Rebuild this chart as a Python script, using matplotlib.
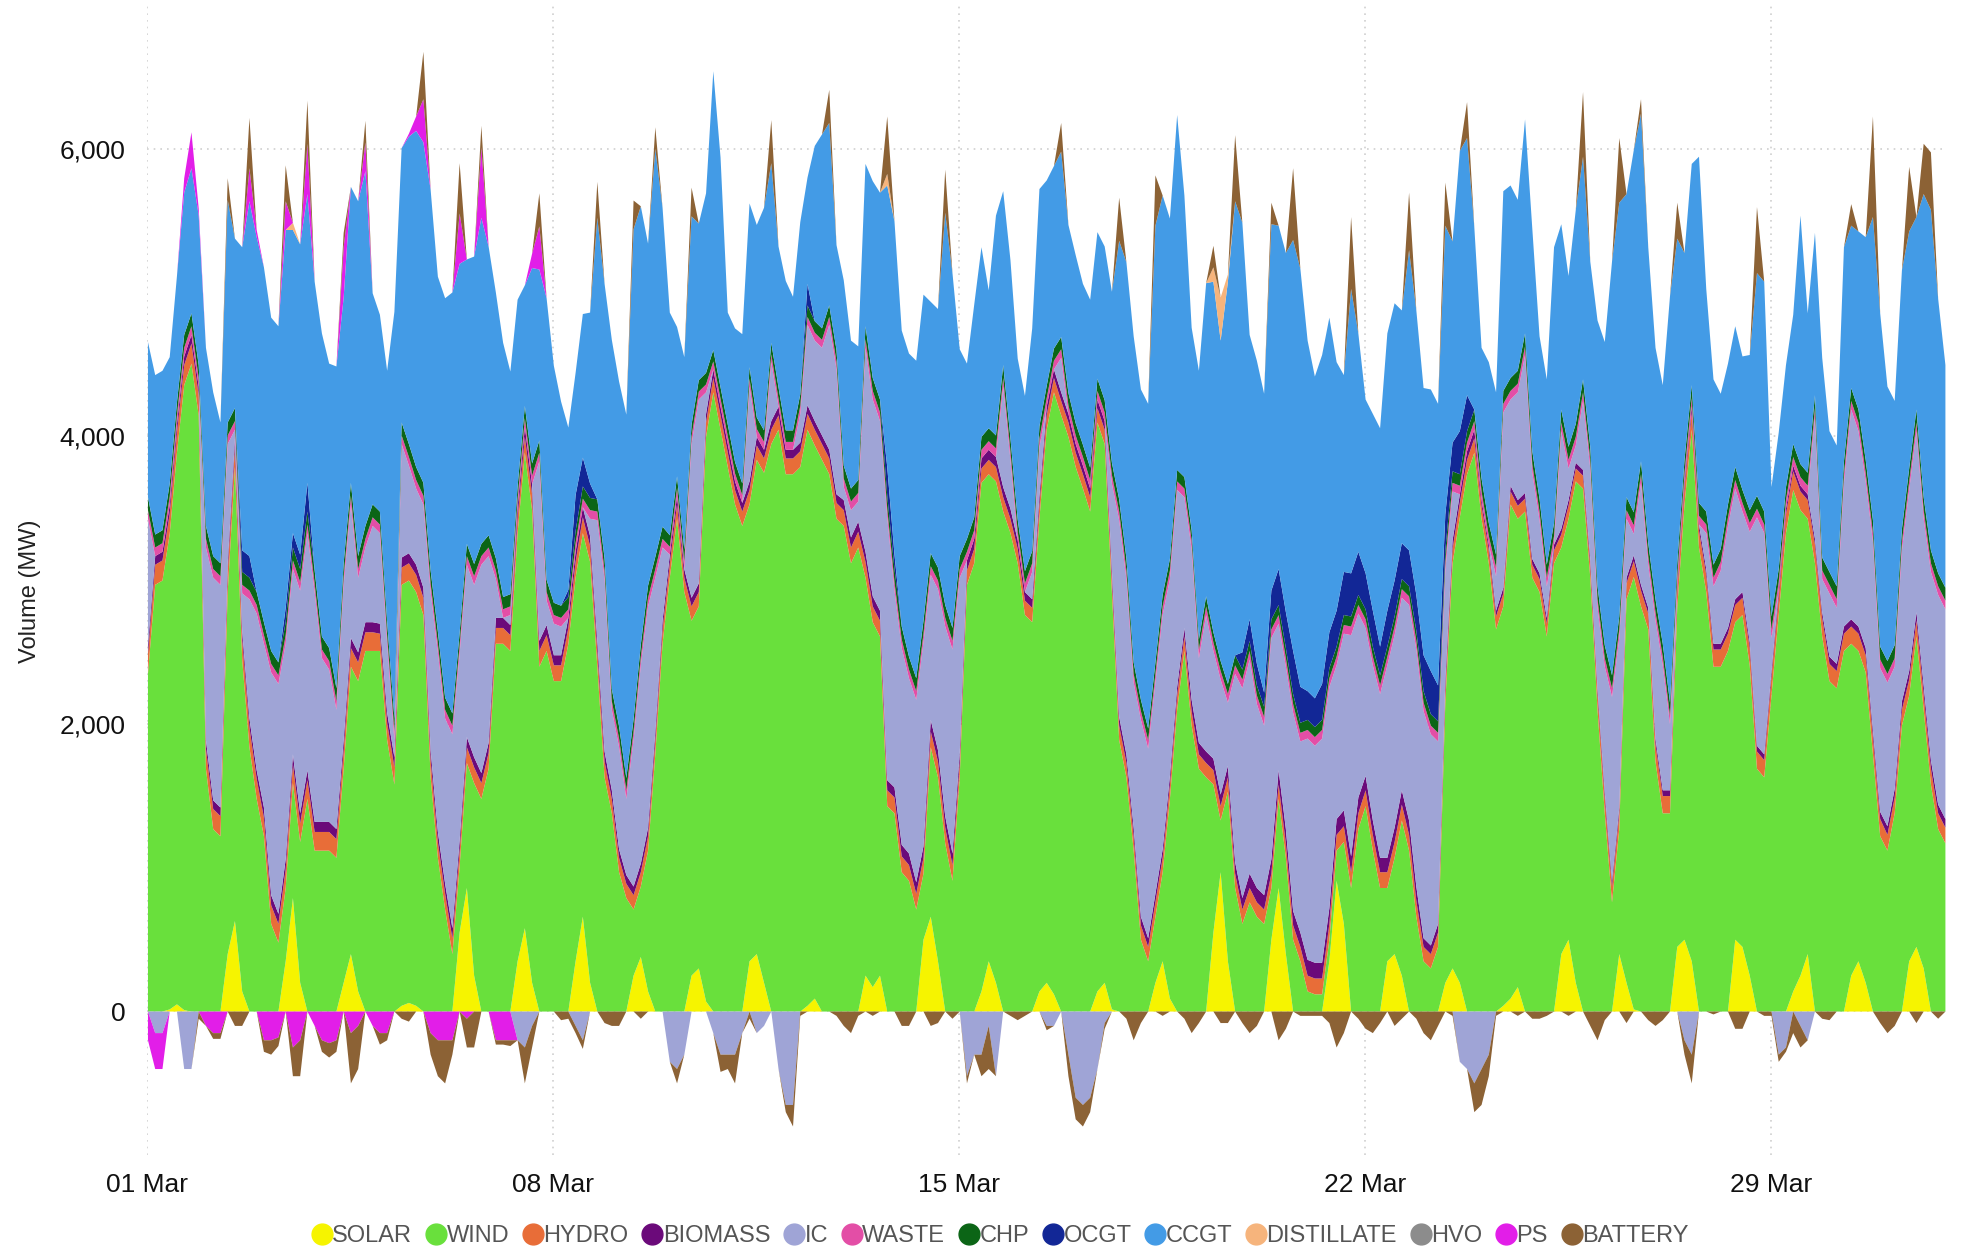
import numpy as np
import pandas as pd
import matplotlib
matplotlib.use("Agg")
import matplotlib.pyplot as plt
import matplotlib.dates as mdates
from matplotlib.lines import Line2D
from matplotlib.ticker import FuncFormatter

plt.rcParams['font.family'] = ['Liberation Sans', 'DejaVu Sans']

# 3-hourly readings (00,03,...,21h) for each day of March, plus 01 Apr 00:00
solar = [
    0, 0, 0, 15, 50, 10, 0, 0,
    0, 0, 0, 400, 630, 140, 0, 0,
    0, 0, 0, 350, 790, 200, 0, 0,
    0, 0, 0, 200, 400, 140, 0, 0,
    0, 0, 0, 40, 60, 40, 0, 0,
    0, 0, 0, 550, 860, 250, 0, 0,
    0, 0, 0, 350, 580, 200, 0, 0,
    0, 0, 0, 350, 660, 200, 0, 0,
    0, 0, 0, 250, 380, 140, 0, 0,
    0, 0, 0, 250, 300, 70, 0, 0,
    0, 0, 0, 350, 400, 200, 0, 0,
    0, 0, 0, 40, 90, 0, 0, 0,
    0, 0, 0, 250, 170, 250, 0, 0,
    0, 0, 0, 500, 660, 350, 0, 0,
    0, 0, 0, 140, 350, 200, 0, 0,
    0, 0, 0, 140, 200, 120, 0, 0,
    0, 0, 0, 140, 200, 15, 0, 0,
    0, 0, 0, 200, 350, 90, 0, 0,
    0, 0, 0, 550, 970, 350, 0, 0,
    0, 0, 0, 500, 860, 400, 0, 0,
    0, 0, 0, 350, 910, 610, 0, 0,
    0, 0, 0, 350, 400, 250, 0, 0,
    0, 0, 0, 200, 300, 200, 0, 0,
    0, 0, 0, 40, 90, 170, 0, 0,
    0, 0, 0, 400, 500, 200, 0, 0,
    0, 0, 0, 400, 200, 15, 0, 0,
    0, 0, 0, 450, 500, 350, 0, 0,
    0, 0, 0, 500, 450, 250, 0, 0,
    0, 0, 0, 140, 250, 400, 0, 0,
    0, 0, 0, 250, 350, 200, 0, 0,
    0, 0, 0, 350, 450, 300, 0, 0,
    0,
]

wind = [
    2350, 2970, 3000, 3310, 3840, 4350, 4510, 4150,
    1690, 1270, 1220, 2520, 3160, 2310, 1840, 1480,
    1220, 610, 480, 510, 800, 980, 1480, 1120,
    1120, 1120, 1070, 1490, 2000, 2160, 2510, 2510,
    2510, 1890, 1580, 2930, 2940, 2880, 2760, 1630,
    1070, 710, 400, 460, 870, 1340, 1480, 1690,
    2560, 2560, 2510, 2980, 3310, 3290, 2400, 2510,
    2300, 2300, 2560, 2670, 2670, 2930, 2400, 1630,
    1380, 970, 790, 460, 490, 980, 1790, 2560,
    3020, 3430, 2920, 2470, 2520, 3930, 4310, 4050,
    3790, 3530, 3380, 3180, 3440, 3550, 3950, 4050,
    3740, 3740, 3790, 4010, 3850, 3840, 3740, 3430,
    3380, 3120, 3230, 2770, 2540, 2360, 1430, 1380,
    970, 910, 710, 460, 1180, 1280, 1170, 910,
    1630, 2970, 3120, 3540, 3390, 3490, 3480, 3330,
    3120, 2760, 2710, 3290, 3850, 4190, 4150, 4000,
    3790, 3640, 3480, 3960, 3750, 2900, 1890, 1630,
    1120, 500, 350, 460, 620, 1390, 2100, 2510,
    1990, 1690, 1630, 1030, 360, 1180, 860, 610,
    760, 660, 610, 360, 620, 670, 500, 350,
    140, 120, 120, 150, 210, 570, 860, 1270,
    1430, 1120, 860, 510, 670, 1080, 1120, 660,
    350, 300, 450, 1950, 2820, 3240, 3740, 3890,
    3430, 3120, 2660, 2780, 3440, 3260, 3480, 3020,
    2920, 2610, 3120, 2830, 2930, 3490, 3640, 3020,
    2100, 1380, 760, 870, 2670, 3010, 2820, 2660,
    1740, 1380, 1380, 2360, 3030, 3700, 3230, 2920,
    2400, 2400, 2510, 2210, 2310, 2160, 1690, 1630,
    2200, 2760, 3330, 3490, 3240, 3030, 3120, 2610,
    2300, 2250, 2510, 2310, 2160, 2160, 1790, 1220,
    1120, 1380, 1990, 1850, 2160, 1800, 1580, 1270,
    1170,
]

# interconnector flows: negative = export
ic = [
    880, -150, -150, 0, 0, -400, -400, 0,
    1340, 1550, 1550, 830, 60, 260, 830, 1090,
    1140, 1550, 1600, 1500, 1290, 1550, 1650, 1600,
    1140, 1060, 830, 1080, 930, 520, 520, 670,
    630, 480, 120, 790, 610, 530, 580, 1100,
    1250, 1150, 1350, 1300, 1200, 1200, 1450, 1300,
    270, 0, 70, -200, -250, -100, 1250, 170,
    220, 200, 0, -100, -200, 120, 840, 1200,
    560, 710, 530, 1020, 1380, 1540, 1070, 510,
    -350, -400, -300, 1070, 1280, 150, -150, -300,
    -300, -300, -150, 660, -150, -100, 410, -400,
    -650, -650, 200, 560, 560, 610, 870, 870,
    90, 190, 140, 1420, 1370, 1320, 1830, 1370,
    1370, 1220, 1270, 1420, 1010, 1120, 1320, 1420,
    1220, -450, -300, -300, -100, -450, 700, 340,
    0, 0, 190, 340, -100, -100, 240, -300,
    -600, -650, -600, -400, -80, 600, 1370, 1220,
    1010, 1370, 1320, 1470, 1630, 1370, 1370, 910,
    1050, 590, 950, 750, 800, 440, 1310, 1460,
    1490, 1280, 1180, 1540, 1020, 1130, 1380, 1330,
    1540, 1510, 1560, 1540, 1070, 1230, 1540, 1280,
    1030, 1080, 1140, 1340, 1340, 1340, 1500, 1650,
    1580, 1470, 1270, 760, 340, -350, -400, -500,
    -400, -300, 240, 1220, 600, 750, 960, 600,
    370, 220, 0, 680, 220, 120, 480, 630,
    560, 870, 1280, 1180, 410, 150, 710, 300,
    820, 870, 460, 0, -200, -300, 0, 250,
    400, 510, 710, 770, 560, 770, 1590, 1540,
    230, -300, -250, 0, -100, -200, 850, 230,
    440, 390, 1000, 1460, 1360, 1160, 1310, 1000,
    1000, 850, 1050, 1260, 1260, 1160, 1310, 1460,
    1460,
]

ocgt = [
    0, 0, 0, 0, 0, 0, 0, 0,
    0, 0, 0, 0, 0, 150, 150, 0,
    0, 0, 0, 100, 100, 100, 200, 0,
    0, 0, 0, 0, 0, 0, 0, 0,
    0, 0, 0, 0, 0, 0, 0, 0,
    0, 0, 0, 0, 0, 0, 0, 0,
    0, 0, 0, 0, 0, 0, 0, 0,
    0, 0, 50, 250, 200, 100, 0, 0,
    0, 0, 0, 0, 0, 0, 0, 0,
    0, 0, 0, 0, 0, 0, 0, 0,
    0, 0, 0, 0, 0, 0, 0, 0,
    0, 0, 0, 150, 0, 0, 0, 0,
    0, 0, 0, 0, 0, 0, 200, 100,
    0, 0, 0, 0, 0, 0, 0, 0,
    0, 0, 0, 0, 0, 0, 0, 0,
    0, 0, 0, 0, 0, 0, 0, 0,
    0, 0, 0, 0, 0, 0, 0, 0,
    0, 0, 0, 0, 0, 0, 0, 0,
    0, 0, 0, 0, 0, 0, 0, 120,
    150, 150, 100, 200, 250, 250, 300, 250,
    200, 200, 250, 250, 250, 300, 300, 300,
    250, 250, 200, 250, 250, 250, 250, 250,
    250, 300, 250, 250, 200, 300, 250, 0,
    0, 0, 0, 0, 0, 0, 0, 0,
    0, 0, 0, 0, 0, 0, 0, 0,
    0, 0, 0, 0, 0, 0, 0, 0,
    0, 0, 0, 0, 0, 0, 0, 0,
    0, 0, 0, 0, 0, 0, 0, 0,
    0, 0, 0, 0, 0, 0, 0, 0,
    0, 0, 0, 0, 0, 0, 0, 0,
    0, 0, 0, 0, 0, 0, 0, 0,
    0,
]

ccgt = [
    1080, 1110, 1110, 880, 880, 990, 1010, 1040,
    1240, 1140, 980, 1550, 1180, 2110, 2470, 2470,
    2470, 2320, 2340, 2630, 2110, 2160, 2010, 2010,
    2110, 1980, 2240, 1850, 2060, 2470, 2470, 1470,
    1370, 1750, 2830, 1910, 2140, 2340, 2370, 2650,
    2470, 2780, 2930, 2570, 1980, 2140, 2270, 2010,
    1850, 1770, 1550, 1300, 840, 1360, 1190, 1960,
    1650, 1420, 1130, 850, 1000, 1190, 1960, 1910,
    2430, 2400, 2530, 3410, 3050, 2380, 2840, 2220,
    1550, 1040, 1340, 1450, 1090, 1250, 1940, 1600,
    780, 930, 1040, 1140, 1340, 1550, 1250, 980,
    1040, 930, 1200, 740, 1220, 1350, 1270, 730,
    1290, 1030, 930, 1130, 1370, 1440, 1960, 2320,
    2060, 2110, 2210, 2270, 1750, 1800, 2730, 2470,
    1440, 1220, 1480, 1320, 960, 1530, 1210, 1240,
    1120, 1220, 1550, 1650, 1430, 1270, 1290, 1170,
    1170, 1120, 1170, 1020, 1070, 1190, 1800, 2060,
    2270, 2160, 2260, 3040, 2780, 2370, 2470, 1960,
    1410, 1870, 2180, 2440, 2230, 2800, 3160, 2990,
    1980, 2110, 2080, 2550, 2390, 2500, 2860, 2910,
    2440, 2240, 2290, 2190, 1730, 1370, 1980, 1520,
    1210, 1370, 1520, 1930, 1930, 1620, 2090, 1980,
    1860, 1960, 1960, 2010, 1400, 1950, 1790, 1270,
    910, 1120, 1130, 1390, 1340, 1190, 1490, 1550,
    1130, 1290, 1920, 1290, 1190, 1490, 1550, 1290,
    1850, 2110, 2880, 2880, 2110, 2520, 2420, 2060,
    1750, 1800, 2830, 2260, 1440, 1540, 2410, 1550,
    1290, 1080, 980, 980, 930, 1080, 1550, 1600,
    900, 950, 850, 900, 1730, 1110, 1130, 1390,
    980, 980, 1490, 1130, 1240, 1550, 2110, 2320,
    1910, 1700, 1800, 1650, 1340, 2110, 2370, 1910,
    1550,
]

distillate = [
    0, 0, 0, 0, 0, 0, 0, 0,
    0, 0, 0, 0, 0, 0, 0, 0,
    0, 0, 0, 0, 50, 0, 0, 0,
    0, 0, 0, 0, 0, 0, 0, 0,
    0, 0, 0, 0, 0, 0, 0, 0,
    0, 0, 0, 0, 0, 0, 0, 0,
    0, 0, 0, 0, 0, 0, 0, 0,
    0, 0, 0, 0, 0, 0, 0, 0,
    0, 0, 0, 0, 0, 0, 0, 0,
    0, 0, 0, 0, 0, 0, 0, 0,
    0, 0, 0, 0, 0, 0, 0, 0,
    0, 0, 0, 0, 0, 0, 0, 0,
    0, 0, 0, 0, 0, 0, 80, 0,
    0, 0, 0, 0, 0, 0, 0, 0,
    0, 0, 0, 0, 0, 0, 0, 0,
    0, 0, 0, 0, 0, 0, 0, 0,
    0, 0, 0, 0, 0, 0, 0, 0,
    0, 0, 0, 0, 0, 0, 0, 0,
    0, 0, 0, 100, 300, 50, 0, 0,
    0, 0, 0, 0, 0, 0, 0, 0,
    0, 0, 0, 0, 0, 0, 0, 0,
    0, 0, 0, 0, 0, 0, 0, 0,
    0, 0, 0, 0, 0, 0, 0, 0,
    0, 0, 0, 0, 0, 0, 0, 0,
    0, 0, 0, 0, 0, 0, 0, 0,
    0, 0, 0, 0, 0, 0, 0, 0,
    0, 0, 0, 0, 0, 0, 0, 0,
    0, 0, 0, 0, 0, 0, 0, 0,
    0, 0, 0, 0, 0, 0, 0, 0,
    0, 0, 0, 0, 0, 0, 0, 0,
    0, 0, 0, 0, 0, 0, 0, 0,
    0,
]

# pumped storage: negative = pumping (only active in the first week)
ps = [
    -200, -250, -250, 0, 0, 100, 250, 50,
    -100, -150, -150, 0, 0, 0, 230, 50,
    -200, -200, -180, 200, -250, -200, 350, -100,
    -200, -220, -200, 350, -150, -100, 200, -100,
    -150, -150, 0, 0, 20, 100, 300, -150,
    -200, -200, -200, 350, -50, 0, 490, 0,
    -200, -200, -200, 0, 0, 100, 300, 0,
] + [0] * (24 * 8 + 1)

# battery: negative = charging
battery = [
    0, 0, 0, 0, 0, 0, 0, -50,
    0, -40, -40, 150, -100, -100, 350, 0,
    -80, -100, -60, 250, -200, -250, 300, 0,
    -80, -100, -80, 100, -350, -300, 150, 0,
    -80, -50, 0, -50, -70, 0, 330, -150,
    -250, -300, -100, 350, -200, -250, 150, 0,
    -30, -30, -40, 0, -250, -150, 230, 0,
    0, -60, -50, -50, -60, 0, 250, -80,
    -100, -100, 0, 200, -50, 0, 150, 0,
    0, -100, 0, 200, 0, 0, 0, -120,
    -100, -200, 0, -50, 0, 0, 300, 0,
    -50, -150, -30, 0, 0, 0, 230, -30,
    -100, -150, -30, 0, -30, 0, 400, 0,
    -100, -100, 0, 0, -100, -80, 300, -50,
    0, -50, 0, -150, -300, 0, 0, -30,
    -60, -30, 0, 0, -30, 0, 200, -150,
    -150, -150, -100, 0, -40, 0, 300, -50,
    -200, -80, 0, 350, -30, 0, 0, -50,
    -150, -80, 0, 150, -80, -80, 460, -80,
    -150, -100, 0, 150, -200, -120, 500, -30,
    -30, -30, -30, -80, -250, -150, 500, -50,
    -120, -150, -80, 0, -100, -50, 400, -50,
    -150, -200, -100, 300, -30, 0, 250, -200,
    -250, -150, -30, 0, 0, -30, 0, -50,
    -50, -30, 0, 0, -30, 0, 450, -100,
    -200, -60, 0, 450, -80, 0, 100, -60,
    -100, -60, 0, 250, -100, -200, 0, 0,
    -20, 0, 0, -120, -120, 0, 460, -30,
    -30, -50, -30, -150, -150, 0, 0, -50,
    -60, 0, 0, 150, 0, 0, 700, -80,
    -150, -100, 0, 450, -80, 350, 400, -50,
    0,
]

# thin layers, one value per day
hydro_daily = [140, 140, 130, 130, 120, 110, 110, 110, 100, 100, 100, 110, 110, 110, 100, 100,
               100, 100, 100, 100, 110, 110, 100, 90, 90, 110, 120, 120, 130, 120, 110]
biomass_daily = [60, 60, 70, 70, 70, 70, 70, 70, 60, 60, 60, 60, 70, 80, 70, 60,
                 60, 60, 80, 100, 110, 100, 60, 40, 40, 40, 40, 40, 40, 50, 60]
waste_daily = [60, 60, 60, 60, 60, 60, 60, 60, 60, 55, 55, 55, 60, 60, 60, 60,
               60, 60, 60, 60, 60, 60, 60, 60, 60, 60, 60, 60, 60, 60, 60]
chp_daily = [90, 90, 90, 90, 90, 85, 85, 85, 85, 80, 80, 80, 90, 90, 90, 85,
             85, 80, 70, 70, 70, 70, 80, 90, 90, 90, 90, 90, 90, 90, 90]
hvo_daily = [0] * 31

names = ['SOLAR', 'WIND', 'HYDRO', 'BIOMASS', 'IC', 'WASTE', 'CHP', 'OCGT',
         'CCGT', 'DISTILLATE', 'HVO', 'PS', 'BATTERY']
colors = ['#f6f400', '#69e03c', '#e86d38', '#6b0a7a', '#9fa4d6', '#e34ea6', '#0b6516',
          '#122796', '#439be6', '#f6b47c', '#8c8c8c', '#e21ee8', '#8c6235']


def per_step(daily):
    a = np.repeat(np.array(daily, float), 8)
    return np.append(a, daily[-1])


n = len(wind)
t = pd.date_range('2024-03-01', periods=n, freq='3h')

series = {
    'SOLAR': np.array(solar, float),
    'WIND': np.array(wind, float),
    'HYDRO': per_step(hydro_daily),
    'BIOMASS': per_step(biomass_daily),
    'IC': np.array(ic, float),
    'WASTE': per_step(waste_daily),
    'CHP': per_step(chp_daily),
    'OCGT': np.array(ocgt, float),
    'CCGT': np.array(ccgt, float),
    'DISTILLATE': np.array(distillate, float),
    'HVO': per_step(hvo_daily),
    'PS': np.array(ps, float),
    'BATTERY': np.array(battery, float),
}

fig = plt.figure(figsize=(19.61, 12.47), dpi=100)
ax = fig.add_axes([0.0752, 0.074, 0.9166, 0.9217])

# positive stack
base = np.zeros(n)
for name, col in zip(names, colors):
    v = np.clip(series[name], 0, None)
    if v.any():
        ax.fill_between(t, base, base + v, color=col, lw=0, zorder=2)
    base = base + v

# negative stack (exports, pumping, charging)
base = np.zeros(n)
for name, col in zip(names, colors):
    v = np.clip(series[name], None, 0)
    if v.any():
        ax.fill_between(t, base, base + v, color=col, lw=0, zorder=2)
        base = base + v

ax.set_xlim(pd.Timestamp('2024-03-01'), pd.Timestamp('2024-04-01'))
ax.set_ylim(-1000, 7000)
ax.set_yticks([0, 2000, 4000, 6000])
ax.yaxis.set_major_formatter(FuncFormatter(lambda v, p: f'{v:,.0f}'))
ax.set_xticks(pd.to_datetime(['2024-03-01', '2024-03-08', '2024-03-15',
                              '2024-03-22', '2024-03-29']))
ax.xaxis.set_major_formatter(mdates.DateFormatter('%d %b'))

ax.grid(True, color='#cfcfcf', linestyle=(0, (1, 3)), linewidth=1.2, zorder=0)
ax.set_axisbelow(True)
for s in ax.spines.values():
    s.set_visible(False)
ax.tick_params(axis='both', length=0, labelsize=19, colors='#111111')
ax.tick_params(axis='x', pad=13)
ax.tick_params(axis='y', pad=16)
ax.set_ylabel('Volume (MW)', fontsize=17, color='#222222')
ax.yaxis.set_label_coords(-0.059, 0.49)

handles = [Line2D([], [], marker='o', linestyle='', markersize=15,
                  markerfacecolor=c, markeredgecolor=c) for c in colors]
fig.legend(handles, names, loc='lower center', bbox_to_anchor=(0.509, -0.017),
           ncol=len(names), frameon=False, fontsize=17, handletextpad=-0.15,
           columnspacing=0.4, labelcolor='#555555', handlelength=1.2)

fig.savefig('out.png', dpi=100)
